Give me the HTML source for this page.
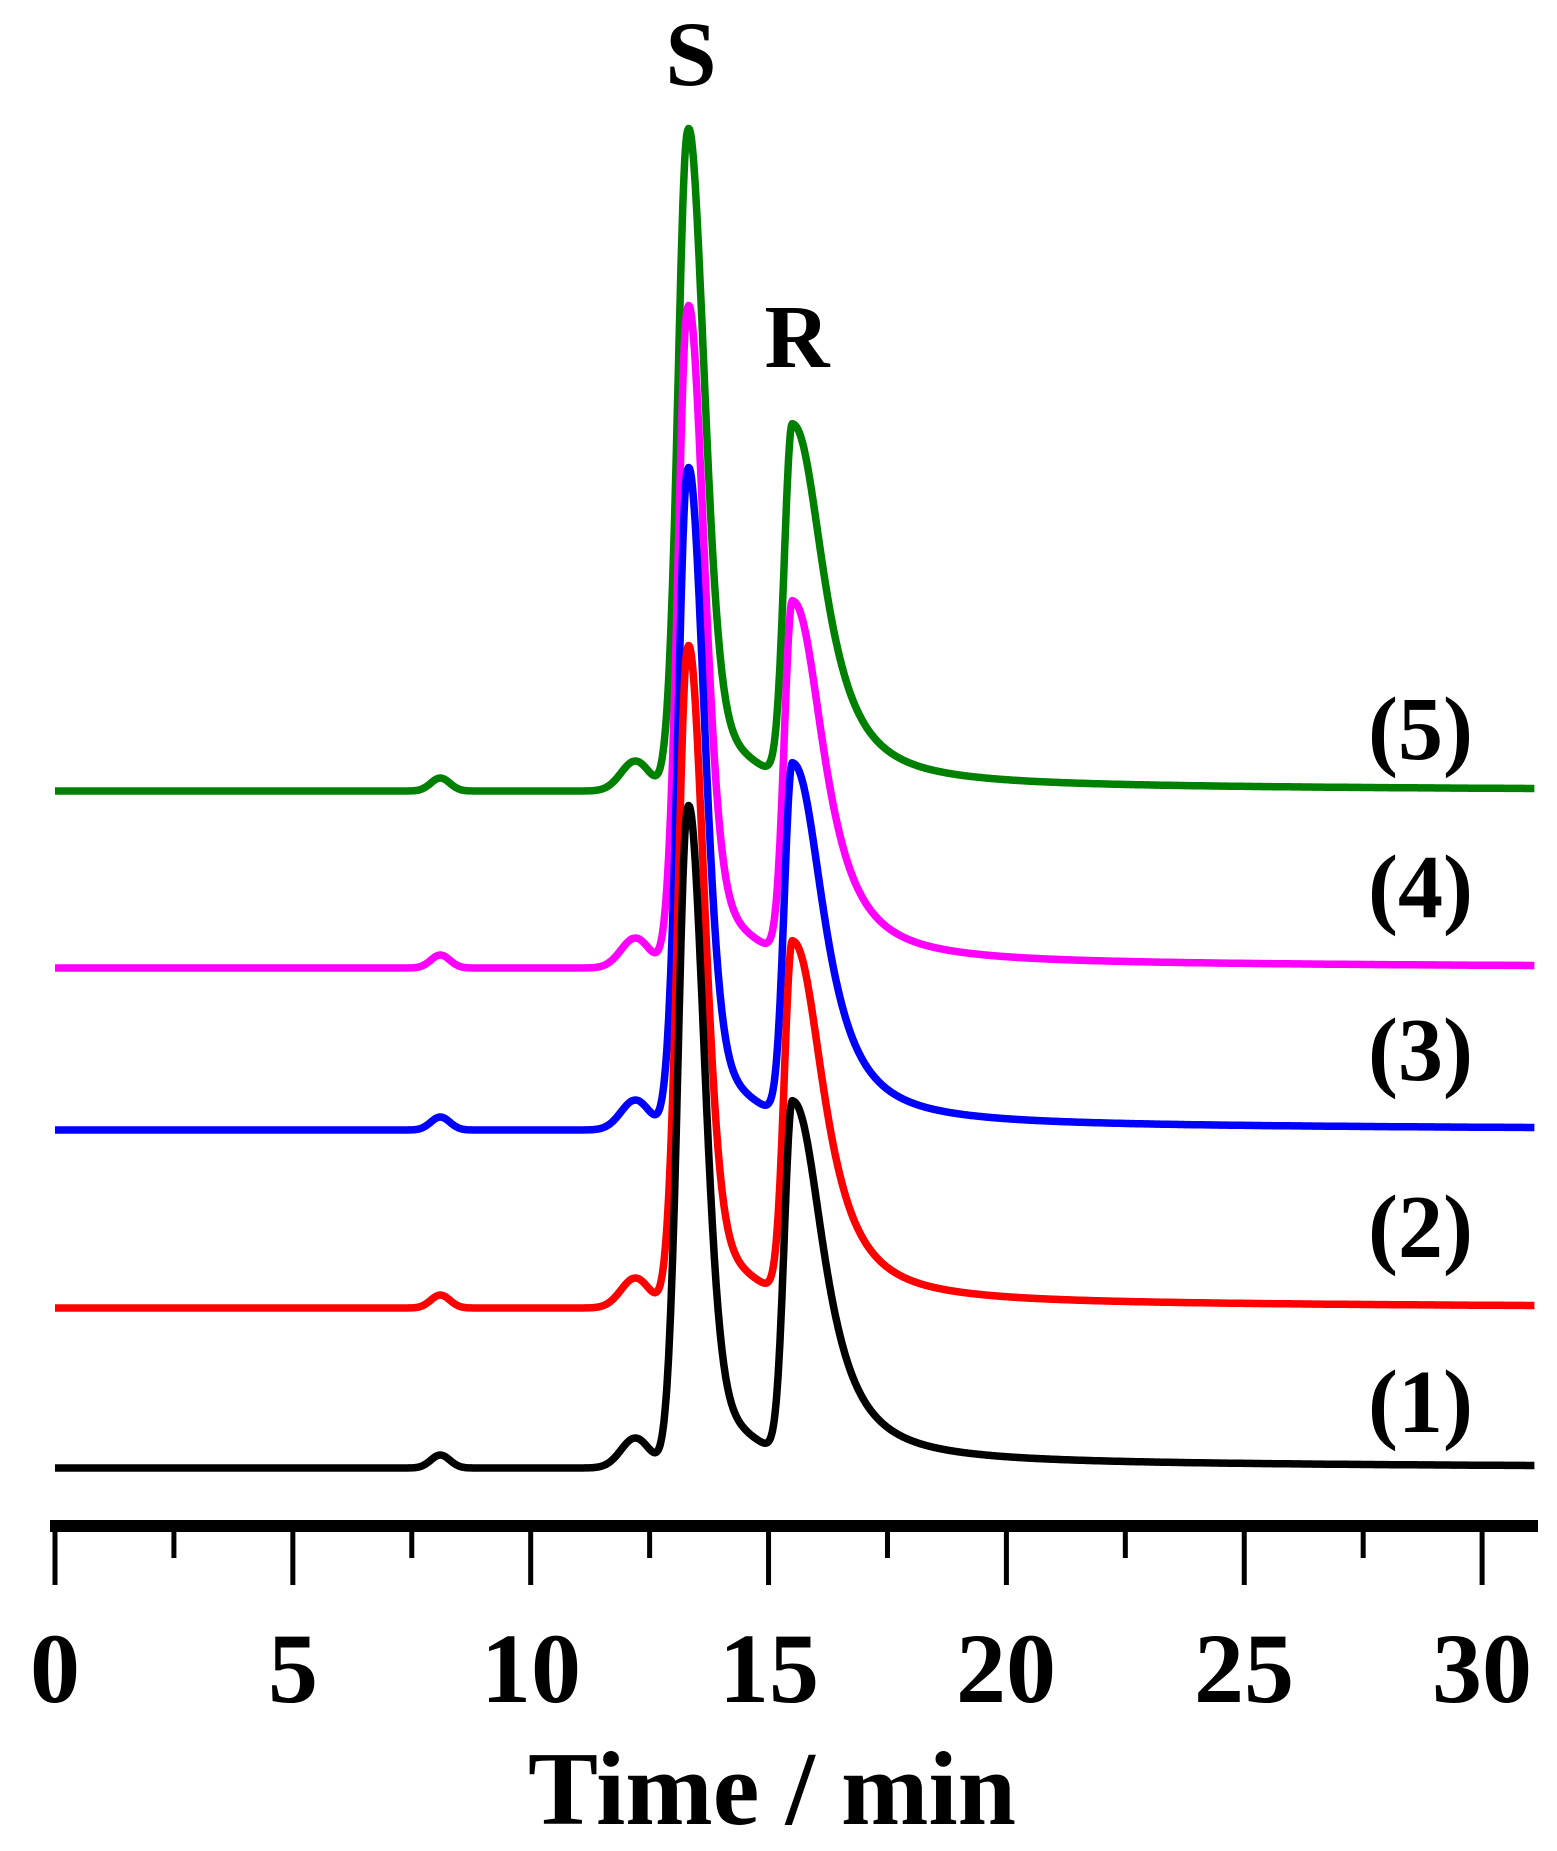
<!DOCTYPE html>
<html><head><meta charset="utf-8"><style>
html,body{margin:0;padding:0;background:#fff}
svg{display:block}
text{font-family:"Liberation Serif",serif;font-weight:bold;fill:#000}
</style></head><body>
<svg id="s" width="1557" height="1851" viewBox="0 0 1557 1851" xmlns="http://www.w3.org/2000/svg">
<g id="curves" fill="none" stroke-width="7.5" stroke-linejoin="round"></g>
<rect x="50" y="1520" width="1488" height="12" fill="#000"/>
<g id="ticks" stroke="#000" stroke-width="5"></g>
<g font-size="100" text-anchor="middle">
<text x="55" y="1702">0</text><text x="293" y="1702">5</text><text x="531" y="1702">10</text>
<text x="769" y="1702">15</text><text x="1006" y="1702">20</text><text x="1244" y="1702">25</text><text x="1482" y="1702">30</text>
</g>
<text x="772" y="1824" font-size="105" text-anchor="middle">Time / min</text>
<text x="691" y="85" font-size="92" text-anchor="middle">S</text>
<text x="797" y="367" font-size="90" text-anchor="middle">R</text>
<g font-size="90">
<text x="1368" y="759">(5)</text>
<text x="1368" y="917">(4)</text>
<text x="1368" y="1080">(3)</text>
<text x="1368" y="1257">(2)</text>
<text x="1368" y="1432">(1)</text>
</g>
</svg>
<script>
(function(){
var x0=55,k=47.57;
function g(x,s){return Math.exp(-0.5*x*x/(s*s));}
function f(t){
 var v=0;
 v+=13*g(t-8.1,0.2);
 v+=30*g(t-12.2,0.3);
 var d=t-13.28;
 v+=(d<0?569*g(d,0.21):569*g(d,0.34));
 if(t>13.0){var o=1-Math.exp(-Math.pow((t-13.0)/0.3,2));v+=150*Math.exp(-(d)/0.89)*o;}
 var r=t-15.5;
 if(r<0) v+=355*g(r,0.17);
 else v+=355/(1+Math.pow(r/0.78,2.34));
 if(t>15.5) v+=8*Math.exp(-(t-15.5)/12)*(1-g(t-15.5,1.5));
 return v;
}
var series=[[1468,"#000"],[1308,"#ff0000"],[1130,"#0000ff"],[968,"#ff00ff"],[791,"#008000"]];
var gc=document.getElementById("curves");
series.reverse().forEach(function(s){
 var d="";
 for(var t=0;t<=31.1;t+=0.02){
  var x=x0+k*t,y=s[0]-f(t);
  d+=(d?"L":"M")+x.toFixed(1)+" "+y.toFixed(1);
 }
 var p=document.createElementNS("http://www.w3.org/2000/svg","path");
 p.setAttribute("d",d);p.setAttribute("stroke",s[1]);gc.appendChild(p);
});
var gt=document.getElementById("ticks");
for(var i=0;i<=12;i++){
 var x=x0+k*2.5*i;
 var l=document.createElementNS("http://www.w3.org/2000/svg","line");
 l.setAttribute("x1",x);l.setAttribute("x2",x);l.setAttribute("y1",1526);
 l.setAttribute("y2",i%2==0?1585:1558);gt.appendChild(l);
}
})();
</script>
</body></html>
